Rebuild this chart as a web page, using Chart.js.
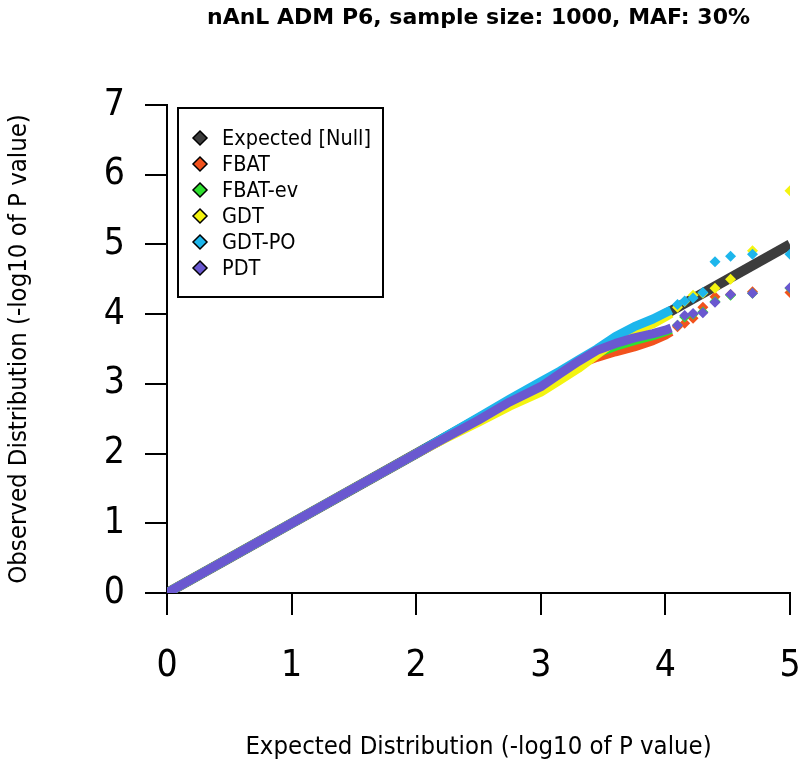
<!DOCTYPE html>
<html>
<head>
<meta charset="utf-8">
<script src="https://cdn.jsdelivr.net/npm/chart.js@4.4.1/dist/chart.umd.min.js"></script>
<style>
html,body{margin:0;padding:0;background:#fff;}
canvas{display:block;}
</style>
</head>
<body>
<canvas id="c" width="800" height="776"></canvas>
<script>
// ---- data ----
const methodNames = ['Expected [Null]', 'FBAT', 'FBAT-ev', 'GDT', 'GDT-PO', 'PDT'];
const methodColors = ['#3c3c3c', '#f2521d', '#2fe02f', '#f4f410', '#1db6ec', '#6a58d0'];
const xTicks = [0, 1, 2, 3, 4, 5];
const yTicks = [0, 1, 2, 3, 4, 5, 6, 7];

const expectedX = [0, 5];
const expectedY = [0, 5];

// dense part of each QQ curve (expected -log10 p)
const bandX    = [0, 0.5, 1, 1.5, 2, 2.25, 2.5, 2.75, 3, 3.15, 3.3, 3.45, 3.6, 3.75, 3.9, 4.0, 4.046];
const fbatBand   = [0, 0.5, 1, 1.5, 2, 2.24, 2.47, 2.73, 2.95, 3.12, 3.28, 3.38, 3.46, 3.53, 3.62, 3.70, 3.75];
const fbatEvBand = [0, 0.5, 1, 1.5, 2, 2.24, 2.48, 2.74, 2.96, 3.13, 3.30, 3.44, 3.54, 3.62, 3.69, 3.75, 3.78];
const gdtBand    = [0, 0.5, 1, 1.5, 2, 2.23, 2.45, 2.68, 2.88, 3.05, 3.22, 3.42, 3.62, 3.76, 3.86, 3.96, 4.01];
const gdtPoBand  = [0, 0.5, 1, 1.5, 2, 2.26, 2.52, 2.78, 3.03, 3.18, 3.34, 3.50, 3.68, 3.82, 3.93, 4.02, 4.06];
const pdtBand    = [0, 0.5, 1, 1.5, 2, 2.24, 2.48, 2.74, 2.96, 3.14, 3.32, 3.48, 3.58, 3.66, 3.72, 3.77, 3.80];

// the top (most significant) points, drawn as separate diamonds
const tailX      = [4.097, 4.155, 4.222, 4.301, 4.398, 4.523, 4.699, 5];
const fbatTail   = [3.82, 3.87, 3.94, 4.10, 4.25, 4.28, 4.32, 4.31];
const fbatEvTail = [3.84, 3.96, 4.00, 4.03, 4.18, 4.27, 4.30, 4.37];
const gdtTail    = [4.10, 4.18, 4.27, 4.30, 4.37, 4.50, 4.91, 5.77];
const gdtPoTail  = [4.14, 4.19, 4.23, 4.31, 4.75, 4.83, 4.86, 4.86];
const pdtTail    = [3.84, 3.98, 4.01, 4.02, 4.17, 4.28, 4.30, 4.38];

const FONT = "'DejaVu Sans Condensed', 'DejaVu Sans', sans-serif";
const TITLE_FONT = "'DejaVu Sans', sans-serif";

function pts(xs, ys) { return xs.map((x, i) => ({x: x, y: ys[i]})); }

const bands = [fbatBand, fbatEvBand, gdtBand, gdtPoBand, pdtBand];
const tails = [fbatTail, fbatEvTail, gdtTail, gdtPoTail, pdtTail];

const datasets = [{
  label: methodNames[0],
  data: pts(expectedX, expectedY),
  showLine: true,
  borderColor: methodColors[0],
  backgroundColor: methodColors[0],
  borderWidth: 10,
  pointRadius: 0,
  order: 20,
  clip: 0
}];
for (let m = 1; m < methodNames.length; m++) {
  datasets.push({
    label: methodNames[m],
    data: pts(bandX, bands[m - 1]),
    showLine: true,
    borderColor: methodColors[m],
    backgroundColor: methodColors[m],
    borderWidth: 9,
    borderJoinStyle: 'round',
    pointRadius: 0,
    order: (6 - m) * 2,
    clip: 0
  });
  datasets.push({
    label: methodNames[m] + ' (top)',
    data: pts(tailX, tails[m - 1]),
    showLine: false,
    pointStyle: 'rectRot',
    pointRadius: 5.5,
    pointBorderWidth: 0,
    backgroundColor: methodColors[m],
    borderColor: methodColors[m],
    order: (6 - m) * 2 - 1,
    clip: 0
  });
}

const qqLegend = {
  id: 'qqLegend',
  afterDatasetsDraw(chart) {
    const {ctx, chartArea} = chart;
    const left = chartArea.left + 11, top = chartArea.top + 3, w = 205, h = 189;
    ctx.save();
    ctx.fillStyle = '#fff';
    ctx.fillRect(left, top, w, h);
    ctx.lineWidth = 2;
    ctx.strokeStyle = '#000';
    ctx.strokeRect(left, top, w, h);
    ctx.font = '21.5px ' + FONT;
    ctx.textBaseline = 'middle';
    methodNames.forEach((name, i) => {
      const y = top + 30 + i * 26;
      const x = left + 22;
      ctx.beginPath();
      ctx.moveTo(x, y - 7); ctx.lineTo(x + 7, y); ctx.lineTo(x, y + 7); ctx.lineTo(x - 7, y);
      ctx.closePath();
      ctx.fillStyle = methodColors[i];
      ctx.fill();
      ctx.lineWidth = 1.5;
      ctx.strokeStyle = '#000';
      ctx.stroke();
      ctx.fillStyle = '#000';
      ctx.fillText(name, left + 44, y + 1);
    });
    ctx.restore();
  }
};

Chart.defaults.font.family = FONT;
Chart.defaults.color = '#000';

new Chart(document.getElementById('c'), {
  type: 'scatter',
  data: {datasets: datasets},
  options: {
    responsive: false,
    animation: false,
    devicePixelRatio: 1,
    layout: {padding: {left: 0, right: 10, top: 0, bottom: 0}},
    plugins: {
      legend: {display: false},
      tooltip: {enabled: false},
      title: {
        display: true,
        fullSize: false,
        text: 'nAnL ADM P6, sample size: 1000, MAF: 30%',
        font: {size: 22, weight: 'bold', family: TITLE_FONT},
        color: '#000',
        padding: {top: 5, bottom: 73.6}
      }
    },
    scales: {
      x: {
        type: 'linear',
        min: 0, max: 5,
        afterBuildTicks: (s) => { s.ticks = xTicks.map(v => ({value: v})); },
        afterFit: (s) => { s.height = 183; s.paddingLeft = 0; s.paddingRight = 0; },
        ticks: {font: {size: 37}, padding: 29, color: '#000', maxRotation: 0},
        grid: {display: true, drawOnChartArea: false, drawTicks: true, tickLength: 22, color: '#000', lineWidth: 2},
        border: {display: true, color: '#000', width: 2},
        title: {display: true, text: 'Expected Distribution (-log10 of P value)', font: {size: 25.5}, color: '#000', padding: {top: 0, bottom: 13}}
      },
      y: {
        type: 'linear',
        min: 0, max: 7,
        afterBuildTicks: (s) => { s.ticks = yTicks.map(v => ({value: v})); },
        afterFit: (s) => { s.width = 167; s.paddingTop = 0; s.paddingBottom = 0; },
        ticks: {font: {size: 37}, padding: 20, color: '#000'},
        grid: {display: true, drawOnChartArea: false, drawTicks: true, tickLength: 22, color: '#000', lineWidth: 2},
        border: {display: true, color: '#000', width: 2},
        title: {display: true, text: 'Observed Distribution (-log10 of P value)', font: {size: 25.5}, color: '#000', padding: {top: 4, bottom: 0}}
      }
    }
  },
  plugins: [qqLegend]
});
</script>
</body>
</html>
